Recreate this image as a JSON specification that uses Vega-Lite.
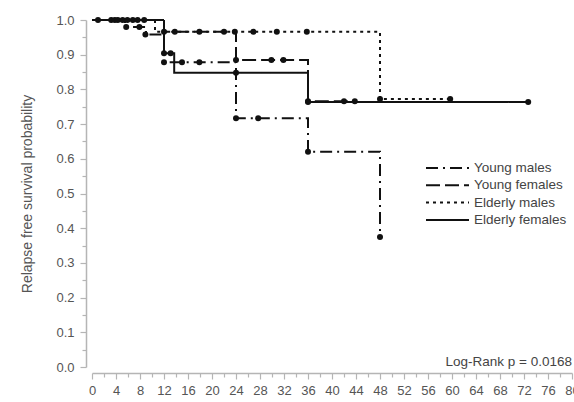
{
  "$schema": "https://vega.github.io/schema/vega-lite/v6.json",
  "width": 480,
  "height": 347,
  "autosize": {"type": "none"},
  "padding": {"left": 92, "top": 20, "right": 2, "bottom": 35},
  "background": "white",
  "config": {
    "view": {"stroke": null},
    "font": "Liberation Sans",
    "axis": {"grid": false, "domainColor": "#b5b5b5", "tickColor": "#b5b5b5", "labelColor": "#555555", "labelFont": "Liberation Sans", "labelFontSize": 13, "titleFont": "Liberation Sans", "titleFontWeight": "normal", "titleColor": "#555555", "domainWidth": 1.5, "tickWidth": 1.2}
  },
  "datasets": {
    "lines": [
      {"group": "Young males", "t": 0, "s": 1.0},
      {"group": "Young males", "t": 5.5, "s": 0.98},
      {"group": "Young males", "t": 9, "s": 0.958},
      {"group": "Young males", "t": 12, "s": 0.878},
      {"group": "Young males", "t": 24, "s": 0.717},
      {"group": "Young males", "t": 36, "s": 0.62},
      {"group": "Young males", "t": 48, "s": 0.375},
      {"group": "Young females", "t": 0, "s": 1.0},
      {"group": "Young females", "t": 12, "s": 0.966},
      {"group": "Young females", "t": 24, "s": 0.885},
      {"group": "Young females", "t": 36, "s": 0.766},
      {"group": "Young females", "t": 44, "s": 0.766},
      {"group": "Elderly males", "t": 0, "s": 1.0},
      {"group": "Elderly males", "t": 10.5, "s": 0.966},
      {"group": "Elderly males", "t": 48, "s": 0.772},
      {"group": "Elderly males", "t": 60, "s": 0.772},
      {"group": "Elderly females", "t": 0, "s": 1.0},
      {"group": "Elderly females", "t": 12, "s": 0.904},
      {"group": "Elderly females", "t": 13.7, "s": 0.848},
      {"group": "Elderly females", "t": 36, "s": 0.764},
      {"group": "Elderly females", "t": 73, "s": 0.764}
    ],
    "censor": [
      {"group": "Elderly females", "t": 1, "s": 1.0},
      {"group": "Elderly females", "t": 3.2, "s": 1.0},
      {"group": "Elderly females", "t": 3.8, "s": 1.0},
      {"group": "Elderly females", "t": 4.3, "s": 1.0},
      {"group": "Elderly females", "t": 5.1, "s": 1.0},
      {"group": "Elderly females", "t": 5.9, "s": 1.0},
      {"group": "Elderly females", "t": 6.8, "s": 1.0},
      {"group": "Elderly females", "t": 7.6, "s": 1.0},
      {"group": "Elderly females", "t": 8.7, "s": 1.0},
      {"group": "Young males", "t": 5.7, "s": 0.98},
      {"group": "Young males", "t": 7.9, "s": 0.98},
      {"group": "Young males", "t": 8.9, "s": 0.958},
      {"group": "Young males", "t": 12, "s": 0.878},
      {"group": "Young males", "t": 15, "s": 0.878},
      {"group": "Young males", "t": 17.9, "s": 0.878},
      {"group": "Young males", "t": 24, "s": 0.717},
      {"group": "Young males", "t": 27.7, "s": 0.717},
      {"group": "Young males", "t": 36, "s": 0.62},
      {"group": "Young males", "t": 48, "s": 0.375},
      {"group": "Elderly males", "t": 12, "s": 0.966},
      {"group": "Elderly males", "t": 13.8, "s": 0.966},
      {"group": "Elderly males", "t": 17.9, "s": 0.966},
      {"group": "Elderly males", "t": 22, "s": 0.966},
      {"group": "Elderly males", "t": 26.9, "s": 0.966},
      {"group": "Elderly males", "t": 30.8, "s": 0.966},
      {"group": "Elderly males", "t": 35.8, "s": 0.966},
      {"group": "Elderly males", "t": 48, "s": 0.772},
      {"group": "Elderly males", "t": 59.7, "s": 0.772},
      {"group": "Young females", "t": 23.8, "s": 0.966},
      {"group": "Young females", "t": 24, "s": 0.885},
      {"group": "Young females", "t": 29.9, "s": 0.885},
      {"group": "Young females", "t": 31.9, "s": 0.885},
      {"group": "Young females", "t": 36, "s": 0.766},
      {"group": "Young females", "t": 42, "s": 0.766},
      {"group": "Young females", "t": 43.8, "s": 0.766},
      {"group": "Elderly females", "t": 12, "s": 0.904},
      {"group": "Elderly females", "t": 13.1, "s": 0.904},
      {"group": "Elderly females", "t": 24, "s": 0.848},
      {"group": "Elderly females", "t": 36, "s": 0.764},
      {"group": "Elderly females", "t": 72.7, "s": 0.764}
    ],
    "note": [
      {"label": "Log-Rank p = 0.0168", "t": 80, "s": 0.015}
    ]
  },
  "layer": [
    {
      "data": {"name": "lines"},
      "mark": {"type": "line", "interpolate": "step-after", "color": "#111111", "strokeWidth": 2},
      "encoding": {
        "x": {
          "field": "t", "type": "quantitative",
          "scale": {"domain": [0, 80], "nice": false, "zero": false},
          "axis": {
            "title": null, "offset": 6, "tickCount": 200,
            "values": [0,2,4,6,8,10,12,14,16,18,20,22,24,26,28,30,32,34,36,38,40,42,44,46,48,50,52,54,56,58,60,62,64,66,68,70,72,74,76,78,80],
            "labelExpr": "datum.value % 4 == 0 ? format(datum.value, 'd') : ''",
            "tickSize": {"condition": {"test": "datum.value % 4 == 0", "value": 6}, "value": 4},
            "labelPadding": 5, "labelOverlap": false, "labelFlush": false
          }
        },
        "y": {
          "field": "s", "type": "quantitative",
          "scale": {"domain": [0, 1], "nice": false},
          "axis": {
            "title": "Relapse free survival probability", "titleFontSize": 14, "titlePadding": 21,
            "offset": 6, "tickCount": 200,
            "values": [0,0.05,0.1,0.15,0.2,0.25,0.3,0.35,0.4,0.45,0.5,0.55,0.6,0.65,0.7,0.75,0.8,0.85,0.9,0.95,1.0],
            "labelExpr": "round(datum.value*100) % 10 == 0 ? format(datum.value, '.1f') : ''",
            "tickSize": {"condition": {"test": "round(datum.value*100) % 10 == 0", "value": 6}, "value": 4},
            "labelPadding": 6, "labelOverlap": false, "labelFlush": false
          }
        },
        "strokeDash": {
          "field": "group", "type": "nominal",
          "scale": {
            "domain": ["Young males", "Young females", "Elderly males", "Elderly females"],
            "range": [[12, 5, 2, 5], [14, 5], [3, 4], [1, 0]]
          },
          "legend": {
            "title": null, "orient": "none", "legendX": 333, "legendY": 141,
            "symbolType": "stroke", "symbolSize": 1849, "symbolStrokeWidth": 2, "symbolStrokeColor": "#111111",
            "labelFontSize": 13.5, "labelColor": "#444444", "labelFont": "Liberation Sans",
            "clipHeight": 14, "rowPadding": 3.3, "labelOffset": 4
          }
        }
      }
    },
    {
      "data": {"name": "censor"},
      "mark": {"type": "point", "filled": true, "color": "#111111", "size": 36, "opacity": 1},
      "encoding": {
        "x": {"field": "t", "type": "quantitative"},
        "y": {"field": "s", "type": "quantitative"}
      }
    },
    {
      "data": {"name": "note"},
      "mark": {"type": "text", "align": "right", "baseline": "middle", "fontSize": 13.5, "color": "#444444", "font": "Liberation Sans"},
      "encoding": {
        "x": {"field": "t", "type": "quantitative"},
        "y": {"field": "s", "type": "quantitative"},
        "text": {"field": "label"}
      }
    }
  ]
}
